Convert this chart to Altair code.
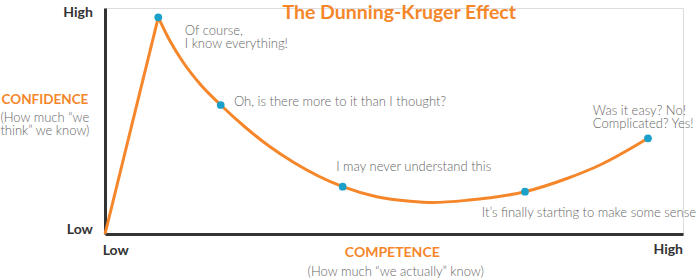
import altair as alt
import pandas as pd

# Curve (competence 0-100, confidence 0-100)
competence = [0, 9.22, 11.25, 13.49, 16.44, 20.02, 24.22, 28.37, 32.53, 41.12, 47.01, 52.77, 56.75, 62.63, 72.66, 79.93, 85.64, 93.94]
confidence = [0, 95.88, 85.40, 76.11, 66.37, 57.08, 47.35, 38.94, 31.86, 20.93, 16.50, 14.51, 13.94, 14.91, 18.72, 24.56, 30.53, 42.35]
milestone_idx = [1, 5, 9, 14, 17]

# Annotation texts and their anchor points (data units, first line)
notes = ["Of course,\nI know everything!", "Oh, is there more to it than I thought?",
         "I may never understand this", "It\u2019s finally starting to make some sense",
         "Was it easy? No!\nComplicated? Yes!"]
notes_x = [13.8, 22.3, 40.0, 65.2, 84.4]
notes_y = [89.8, 58.4, 29.6, 9.3, 54.4]

level_labels = ["High", "Low"]
ylab_x = [-2.1, -2.1]
ylab_y = [97.8, 1.8]
xlab_left = ["Low"]
xlab_right = ["High"]

title_text = ["The Dunning-Kruger Effect"]
x_title = ["COMPETENCE"]
x_sub = ["(How much \u201cwe actually\u201d know)"]
y_title = ["CONFIDENCE"]
y_sub = ["(How much \u201cwe\nthink\u201d we know)"]

ORANGE = "#F5862A"
BLUE = "#1BA0C9"
GRAY = "#666666"
DARK = "#333333"
FONT = "Lato"

curve = pd.DataFrame({"competence": competence, "confidence": confidence})
rise = curve.iloc[:2]
fall = curve.iloc[1:]
dots = curve.iloc[milestone_idx]

xs = alt.Scale(domain=[0, 100], nice=False, zero=False)
ys = alt.Scale(domain=[0, 100], nice=False, zero=False)
ax_style = dict(domainColor=DARK, domainWidth=3, ticks=False, labels=False, grid=False, title=None)

X = alt.X("competence:Q", scale=xs, axis=alt.Axis(**ax_style))
Y = alt.Y("confidence:Q", scale=ys, axis=alt.Axis(**ax_style))

rise_l = alt.Chart(rise).mark_line(color=ORANGE, strokeWidth=3).encode(x=X, y=Y)
fall_l = alt.Chart(fall).mark_line(color=ORANGE, strokeWidth=3, interpolate="monotone").encode(
    x=alt.X("competence:Q", scale=xs), y=alt.Y("confidence:Q", scale=ys))
dot_l = alt.Chart(dots).mark_circle(color=BLUE, size=60, opacity=1).encode(
    x=alt.X("competence:Q", scale=xs), y=alt.Y("confidence:Q", scale=ys))


def text_layer(texts, xv, yv, **mark):
    df = pd.DataFrame({"t": texts, "x": xv, "y": yv})
    return alt.Chart(df).mark_text(font=FONT, baseline="middle", lineBreak="\n", lineHeight=13, **mark).encode(
        x=alt.X("x:Q", scale=xs), y=alt.Y("y:Q", scale=ys), text="t:N")


notes_l = text_layer(notes, notes_x, notes_y, align="left", fontSize=13, color=GRAY, fontWeight=300)
ylab_l = text_layer(level_labels, ylab_x, ylab_y, align="right", fontSize=14, fontWeight="bold", color=DARK)
xlab_l1 = text_layer(xlab_left, [-0.4], [-7.4], align="left", fontSize=14, fontWeight="bold", color=DARK)
xlab_l2 = text_layer(xlab_right, [100], [-7.2], align="right", fontSize=14, fontWeight="bold", color=DARK)
title_l = text_layer(title_text, [50.9], [97.8], align="center", fontSize=19.5, fontWeight="bold", color=ORANGE)
xt_l = text_layer(x_title, [49.7], [-8.3], align="center", fontSize=14, fontWeight="bold", color=ORANGE)
xs_l = text_layer(x_sub, [50.3], [-16.7], align="center", fontSize=13, color=GRAY, fontWeight=300)
yt_l = text_layer(y_title, [-17.9], [59.3], align="left", fontSize=13.5, fontWeight="bold", color=ORANGE)
ysub_l = text_layer(y_sub, [-18.1], [51.2], align="left", fontSize=13, color=GRAY, fontWeight=300)

chart = alt.layer(
    rise_l, fall_l, dot_l, notes_l, ylab_l, xlab_l1, xlab_l2, title_l, xt_l, xs_l, yt_l, ysub_l
).properties(
    width=578, height=226,
    autosize=alt.AutoSizeParams(type="none"),
    padding={"left": 105, "top": 8, "right": 17, "bottom": 46},
).configure_view(stroke=None).configure(background="white")

chart.save("out.html", embed_options={"renderer": "svg", "actions": False})
